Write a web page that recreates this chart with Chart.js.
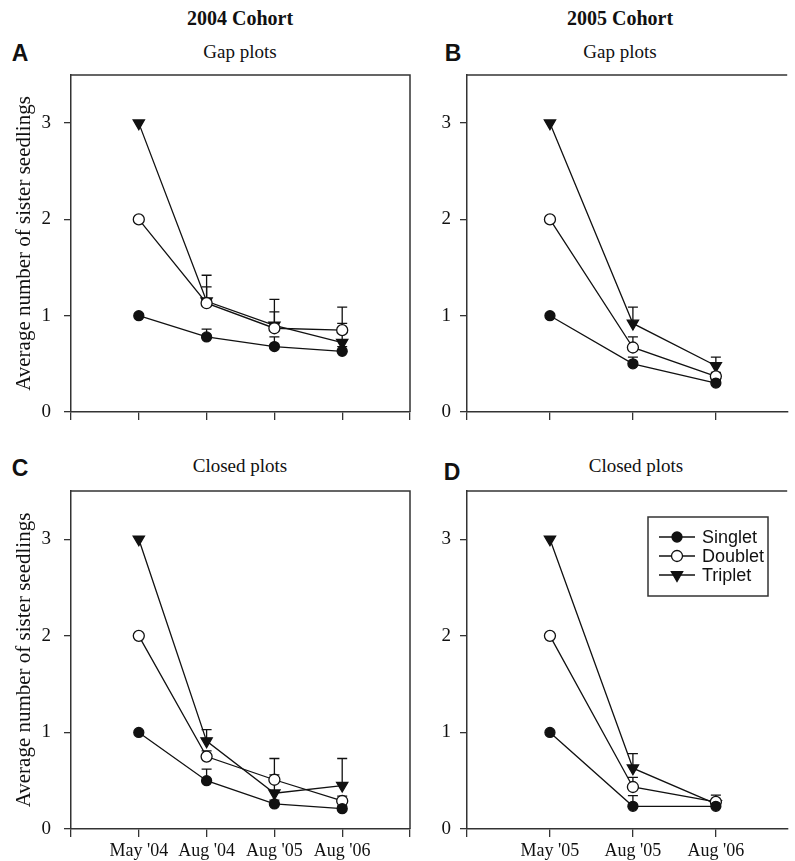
<!DOCTYPE html>
<html>
<head>
<meta charset="utf-8">
<script src="https://cdn.jsdelivr.net/npm/chart.js@4.4.1/dist/chart.umd.min.js"></script>
<style>
    body { margin: 0; background: #fff; overflow: hidden; }
    #fig { position: relative; width: 795px; height: 861px; }
    canvas { position: absolute; }
    .t { position: absolute; white-space: nowrap; transform: translate(-50%, -50%); color: #111;
         font-family: "Liberation Serif", "Times New Roman", serif; }
    .head { font-weight: bold; font-size: 20px; }
    .sub { font-size: 19px; }
    .let { font-family: "Liberation Sans", Arial, sans-serif; font-weight: bold; font-size: 23px; }
</style>
</head>
<body>
<div id="fig">
    <div class="t head" style="left:240px;top:18px">2004 Cohort</div>
    <div class="t head" style="left:620px;top:18px">2005 Cohort</div>
    <div class="t let" style="left:20px;top:53px">A</div>
    <div class="t sub" style="left:240px;top:52px">Gap plots</div>
    <div class="t let" style="left:453px;top:53px">B</div>
    <div class="t sub" style="left:620px;top:52px">Gap plots</div>
    <div class="t let" style="left:20px;top:468px">C</div>
    <div class="t sub" style="left:240px;top:466px">Closed plots</div>
    <div class="t let" style="left:452px;top:472px">D</div>
    <div class="t sub" style="left:636px;top:466px">Closed plots</div>

    <canvas id="chartA" width="420" height="365" style="left:0;top:65px"></canvas>
    <canvas id="chartB" width="365" height="365" style="left:430px;top:65px"></canvas>
    <canvas id="chartC" width="420" height="381" style="left:0;top:480px"></canvas>
    <canvas id="chartD" width="365" height="381" style="left:430px;top:480px"></canvas>
</div>

<script>
// categories
var labels2004 = ["May '04", "Aug '04", "Aug '05", "Aug '06"];
var labels2005 = ["May '05", "Aug '05", "Aug '06"];
var seriesNames = ["Singlet", "Doublet", "Triplet"];
var yTicks = [0, 1, 2, 3];

// A - 2004 cohort, gap plots (mean, then upper error bar length)
var gap04Singlet = [1, 0.78, 0.68, 0.63];
var gap04Doublet = [2, 1.13, 0.87, 0.85];
var gap04Triplet = [3, 1.15, 0.90, 0.72];
var gap04SingletErr = [0, 0.08, 0.10, 0.05];
var gap04DoubletErr = [0, 0.17, 0.17, 0.24];
var gap04TripletErr = [0, 0.27, 0.27, 0.20];

// B - 2005 cohort, gap plots
var gap05Singlet = [1, 0.50, 0.30];
var gap05Doublet = [2, 0.67, 0.37];
var gap05Triplet = [3, 0.92, 0.48];
var gap05SingletErr = [0, 0.07, 0.03];
var gap05DoubletErr = [0, 0.11, 0.04];
var gap05TripletErr = [0, 0.17, 0.09];

// C - 2004 cohort, closed plots
var closed04Singlet = [1, 0.50, 0.26, 0.21];
var closed04Doublet = [2, 0.75, 0.51, 0.29];
var closed04Triplet = [3, 0.91, 0.37, 0.45];
var closed04SingletErr = [0, 0.12, 0.04, 0.03];
var closed04DoubletErr = [0, 0.06, 0.05, 0.05];
var closed04TripletErr = [0, 0.12, 0.36, 0.28];

// D - 2005 cohort, closed plots
var closed05Singlet = [1, 0.235, 0.235];
var closed05Doublet = [2, 0.435, 0.28];
var closed05Triplet = [3, 0.63, 0.26];
var closed05SingletErr = [0, 0.11, 0.02];
var closed05DoubletErr = [0, 0.10, 0.07];
var closed05TripletErr = [0, 0.15, 0.03];

var ink = "#111";
var axisColor = "#333";
var serif = "'Liberation Serif', 'Times New Roman', serif";
var sans = "'Liberation Sans', Arial, sans-serif";

// marker look per series
var markerStyles = [
    { pointStyle: "circle", radius: 5, bg: "#111", rotation: 0 },
    { pointStyle: "circle", radius: 5.5, bg: "#fff", rotation: 0 },
    { pointStyle: "triangle", radius: 6.5, bg: "#111", rotation: 180 }
];

// error bars (upper only), drawn under the lines and markers
var errorBarPlugin = {
    id: "errorBars",
    beforeDatasetsDraw: function (chart) {
        var ctx = chart.ctx;
        var yScale = chart.scales.y;
        chart.data.datasets.forEach(function (ds, i) {
            var meta = chart.getDatasetMeta(i);
            meta.data.forEach(function (pt, j) {
                var e = ds.errorBars[j];
                if (!e) return;
                var top = yScale.getPixelForValue(ds.data[j].y + e);
                ctx.save();
                ctx.strokeStyle = ink;
                ctx.lineWidth = 1.3;
                ctx.beginPath();
                ctx.moveTo(pt.x, pt.y);
                ctx.lineTo(pt.x, top);
                ctx.moveTo(pt.x - 5, top);
                ctx.lineTo(pt.x + 5, top);
                ctx.stroke();
                ctx.restore();
            });
        });
    }
};

// top (and right) border of the box
var framePlugin = {
    id: "frame",
    afterDraw: function (chart, args, opts) {
        var a = chart.chartArea, ctx = chart.ctx;
        ctx.save();
        ctx.strokeStyle = axisColor;
        ctx.lineWidth = 1.5;
        ctx.beginPath();
        ctx.moveTo(a.left, a.top);
        ctx.lineTo(a.right, a.top);
        if (opts.right) ctx.lineTo(a.right, a.bottom);
        ctx.stroke();
        ctx.restore();
    }
};

function drawMarker(ctx, m, x, y) {
    ctx.save();
    ctx.fillStyle = m.bg;
    ctx.strokeStyle = ink;
    ctx.lineWidth = 1.3;
    ctx.beginPath();
    if (m.pointStyle === "circle") {
        ctx.arc(x, y, m.radius, 0, Math.PI * 2);
    } else {
        var r = m.radius;
        ctx.moveTo(x - r * 0.87, y - r * 0.5);
        ctx.lineTo(x + r * 0.87, y - r * 0.5);
        ctx.lineTo(x, y + r);
        ctx.closePath();
    }
    ctx.fill();
    ctx.stroke();
    ctx.restore();
}

// boxed legend inside panel D
var boxLegendPlugin = {
    id: "boxLegend",
    afterDraw: function (chart, args, opts) {
        if (!opts.show) return;
        var a = chart.chartArea, ctx = chart.ctx;
        var bx = a.left + 181, by = a.top + 26, bw = 120, bh = 79;
        ctx.save();
        ctx.strokeStyle = axisColor;
        ctx.lineWidth = 1.5;
        ctx.strokeRect(bx, by, bw, bh);
        ctx.font = "18px " + sans;
        ctx.fillStyle = ink;
        ctx.textBaseline = "middle";
        seriesNames.forEach(function (name, i) {
            var yy = by + 20 + i * 19;
            ctx.strokeStyle = ink;
            ctx.lineWidth = 1.3;
            ctx.beginPath();
            ctx.moveTo(bx + 11, yy);
            ctx.lineTo(bx + 47, yy);
            ctx.stroke();
            drawMarker(ctx, markerStyles[i], bx + 29, yy);
            ctx.fillText(name, bx + 54, yy + 1);
        });
        ctx.restore();
    }
};

function makePanel(id, labels, series, errs, cfg) {
    var datasets = series.map(function (vals, i) {
        var m = markerStyles[i];
        return {
            label: seriesNames[i],
            data: vals.map(function (v, k) { return { x: k, y: v }; }),
            errorBars: errs[i],
            borderColor: ink,
            borderWidth: 1.3,
            backgroundColor: m.bg,
            pointStyle: m.pointStyle,
            pointRadius: m.radius,
            pointRotation: m.rotation,
            pointBackgroundColor: m.bg,
            pointBorderColor: ink,
            pointBorderWidth: 1.3,
            tension: 0,
            fill: false
        };
    });

    return new Chart(document.getElementById(id), {
        type: "line",
        data: { datasets: datasets },
        plugins: [errorBarPlugin, framePlugin, boxLegendPlugin],
        options: {
            responsive: false,
            animation: false,
            devicePixelRatio: 1,
            layout: { padding: { top: cfg.padTop, right: cfg.padRight, left: 0, bottom: 0 } },
            plugins: {
                legend: { display: false },
                tooltip: { enabled: false },
                frame: { right: cfg.rightBorder },
                boxLegend: { show: cfg.legend }
            },
            scales: {
                x: {
                    type: "linear",
                    min: -1,
                    max: cfg.xMax,
                    afterBuildTicks: function (s) {
                        var t = [];
                        for (var v = -1; v <= Math.floor(cfg.xMax); v++) t.push({ value: v });
                        s.ticks = t;
                    },
                    ticks: {
                        display: cfg.xLabels,
                        autoSkip: false,
                        maxRotation: 0,
                        padding: 3,
                        color: ink,
                        font: { family: serif, size: 18 },
                        callback: function (v) { return labels[v] || ""; }
                    },
                    grid: { drawOnChartArea: false, drawTicks: true, tickLength: 8, color: axisColor, lineWidth: 1.3 },
                    border: { color: axisColor, width: 1.5 },
                    afterFit: function (s) {
                        s.height = cfg.xHeight;
                        s.paddingLeft = 0;
                        s.paddingRight = 0;
                    }
                },
                y: {
                    min: 0,
                    max: 3.5,
                    afterBuildTicks: function (s) {
                        s.ticks = yTicks.map(function (v) { return { value: v }; });
                    },
                    ticks: {
                        padding: cfg.yPad,
                        color: ink,
                        font: { family: serif, size: 19 },
                        callback: function (v) { return String(v); }
                    },
                    grid: { drawOnChartArea: false, drawTicks: true, tickLength: 7, color: axisColor, lineWidth: 1.3 },
                    border: { color: axisColor, width: 1.5 },
                    title: {
                        display: cfg.yTitle,
                        text: "Average number of sister seedlings",
                        color: ink,
                        font: { family: serif, size: 21 },
                        padding: { top: 12, bottom: 0 }
                    },
                    afterFit: function (s) {
                        s.width = cfg.yWidth;
                        s.paddingTop = 0;
                        s.paddingBottom = 0;
                    }
                }
            }
        }
    });
}

makePanel("chartA", labels2004,
    [gap04Singlet, gap04Doublet, gap04Triplet],
    [gap04SingletErr, gap04DoubletErr, gap04TripletErr],
    { xMax: 4, padTop: 10, padRight: 10, xHeight: 18, yWidth: 71, yPad: 13, yTitle: true, xLabels: false, rightBorder: true, legend: false });

makePanel("chartB", labels2005,
    [gap05Singlet, gap05Doublet, gap05Triplet],
    [gap05SingletErr, gap05DoubletErr, gap05TripletErr],
    { xMax: 2.86, padTop: 10, padRight: 0, xHeight: 18, yWidth: 37, yPad: 9, yTitle: false, xLabels: false, rightBorder: false, legend: false });

makePanel("chartC", labels2004,
    [closed04Singlet, closed04Doublet, closed04Triplet],
    [closed04SingletErr, closed04DoubletErr, closed04TripletErr],
    { xMax: 4, padTop: 11, padRight: 10, xHeight: 32, yWidth: 71, yPad: 13, yTitle: true, xLabels: true, rightBorder: true, legend: false });

makePanel("chartD", labels2005,
    [closed05Singlet, closed05Doublet, closed05Triplet],
    [closed05SingletErr, closed05DoubletErr, closed05TripletErr],
    { xMax: 2.86, padTop: 11, padRight: 0, xHeight: 32, yWidth: 37, yPad: 9, yTitle: false, xLabels: true, rightBorder: false, legend: true });
</script>
</body>
</html>
